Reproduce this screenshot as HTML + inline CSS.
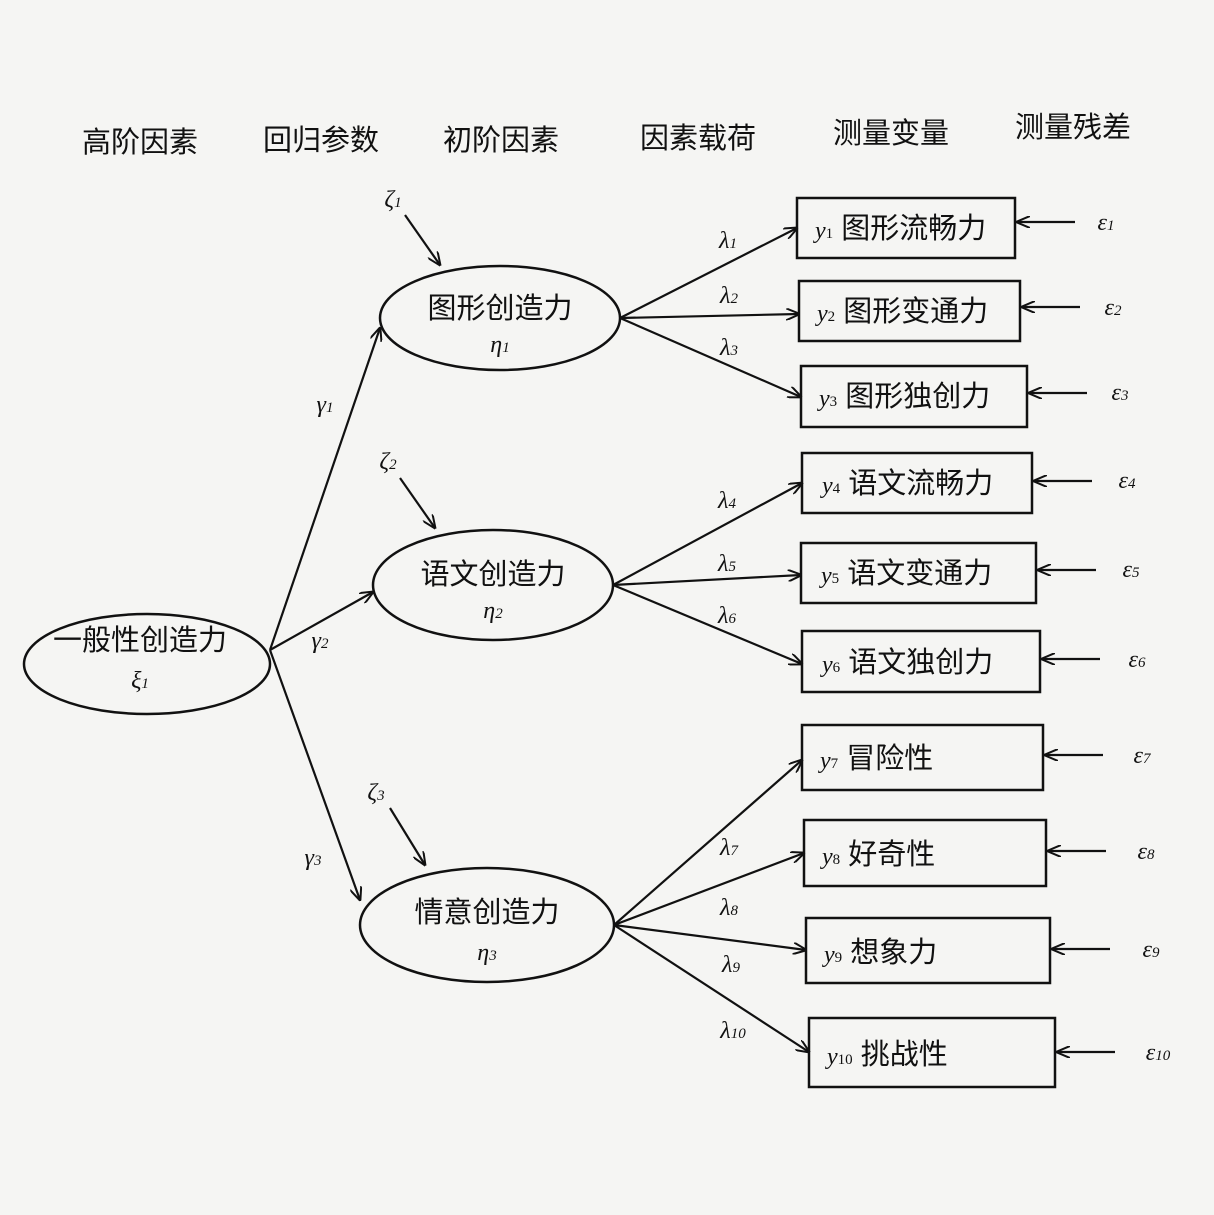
<!DOCTYPE html>
<html><head><meta charset="utf-8">
<style>
html,body{margin:0;padding:0;background:#f5f5f3;}
svg{display:block;}
text{fill:#111;}
.s{font-family:"Liberation Serif","Noto Serif CJK SC",serif;}
text.h{font-family:"Liberation Sans","Noto Sans CJK SC",sans-serif;font-size:29px;}
text.c{font-family:"Liberation Sans","Noto Sans CJK SC",sans-serif;font-size:29px;}
.g{font-family:"Liberation Serif",serif;font-style:italic;font-size:24px;}
</style></head><body>
<svg width="1214" height="1215" viewBox="0 0 1214 1215" xmlns="http://www.w3.org/2000/svg">
<defs><marker id="a" markerWidth="14" markerHeight="12" refX="13" refY="6" orient="auto" markerUnits="userSpaceOnUse"><path d="M0,0 L14,6 L0,12" fill="none" stroke="#111" stroke-width="2"/></marker></defs>
<text class="h" x="82" y="152">高阶因素</text><text class="h" x="263" y="150">回归参数</text><text class="h" x="443" y="150">初阶因素</text>
<text class="h" x="640" y="148">因素载荷</text><text class="h" x="833" y="143">测量变量</text><text class="h" x="1015" y="137">测量残差</text>
<g fill="none" stroke="#111" stroke-width="2.5">
<ellipse cx="147" cy="664" rx="123" ry="50"/>
<ellipse cx="500" cy="318" rx="120" ry="52"/>
<ellipse cx="493" cy="585" rx="120" ry="55"/>
<ellipse cx="487" cy="925" rx="127" ry="57"/>
<rect x="797" y="198" width="218" height="60"/>
<rect x="799" y="281" width="221" height="60"/>
<rect x="801" y="366" width="226" height="61"/>
<rect x="802" y="453" width="230" height="60"/>
<rect x="801" y="543" width="235" height="60"/>
<rect x="802" y="631" width="238" height="61"/>
<rect x="802" y="725" width="241" height="65"/>
<rect x="804" y="820" width="242" height="66"/>
<rect x="806" y="918" width="244" height="65"/>
<rect x="809" y="1018" width="246" height="69"/>
</g>
<g stroke="#111" stroke-width="2.2" fill="none" marker-end="url(#a)">
<line x1="270" y1="650" x2="380" y2="328"/>
<line x1="270" y1="650" x2="373" y2="592"/>
<line x1="270" y1="650" x2="360" y2="900"/>
<line x1="405" y1="215" x2="440" y2="265"/>
<line x1="400" y1="478" x2="435" y2="528"/>
<line x1="390" y1="808" x2="425" y2="865"/>
<line x1="620" y1="318" x2="797" y2="228"/>
<line x1="620" y1="318" x2="799" y2="314"/>
<line x1="620" y1="318" x2="801" y2="397"/>
<line x1="613" y1="585" x2="802" y2="483"/>
<line x1="613" y1="585" x2="801" y2="575"/>
<line x1="613" y1="585" x2="802" y2="664"/>
<line x1="614" y1="925" x2="802" y2="760"/>
<line x1="614" y1="925" x2="804" y2="853"/>
<line x1="614" y1="925" x2="806" y2="950"/>
<line x1="614" y1="925" x2="809" y2="1052"/>
<line x1="1075" y1="222" x2="1017" y2="222"/>
<line x1="1080" y1="307" x2="1022" y2="307"/>
<line x1="1087" y1="393" x2="1029" y2="393"/>
<line x1="1092" y1="481" x2="1034" y2="481"/>
<line x1="1096" y1="570" x2="1038" y2="570"/>
<line x1="1100" y1="659" x2="1042" y2="659"/>
<line x1="1103" y1="755" x2="1045" y2="755"/>
<line x1="1106" y1="851" x2="1048" y2="851"/>
<line x1="1110" y1="949" x2="1052" y2="949"/>
<line x1="1115" y1="1052" x2="1057" y2="1052"/>
</g>
<text class="c" text-anchor="middle" x="140" y="650">一般性创造力</text>
<text class="c" text-anchor="middle" x="500" y="318">图形创造力</text>
<text class="c" text-anchor="middle" x="493" y="584">语文创造力</text>
<text class="c" text-anchor="middle" x="487" y="922">情意创造力</text>
<g class="g" text-anchor="middle">
<text x="140" y="688">ξ<tspan font-size="15">1</tspan></text>
<text x="500" y="352">η<tspan font-size="15">1</tspan></text>
<text x="493" y="618">η<tspan font-size="15">2</tspan></text>
<text x="487" y="960">η<tspan font-size="15">3</tspan></text>
<text x="325" y="412">γ<tspan font-size="15">1</tspan></text>
<text x="320" y="648">γ<tspan font-size="15">2</tspan></text>
<text x="313" y="865">γ<tspan font-size="15">3</tspan></text>
<text x="393" y="207">ζ<tspan font-size="15">1</tspan></text>
<text x="388" y="469">ζ<tspan font-size="15">2</tspan></text>
<text x="376" y="800">ζ<tspan font-size="15">3</tspan></text>
<text x="728" y="248">λ<tspan font-size="15">1</tspan></text>
<text x="729" y="303">λ<tspan font-size="15">2</tspan></text>
<text x="729" y="355">λ<tspan font-size="15">3</tspan></text>
<text x="727" y="508">λ<tspan font-size="15">4</tspan></text>
<text x="727" y="571">λ<tspan font-size="15">5</tspan></text>
<text x="727" y="623">λ<tspan font-size="15">6</tspan></text>
<text x="729" y="855">λ<tspan font-size="15">7</tspan></text>
<text x="729" y="915">λ<tspan font-size="15">8</tspan></text>
<text x="731" y="972">λ<tspan font-size="15">9</tspan></text>
<text x="733" y="1038">λ<tspan font-size="15">10</tspan></text>
<text x="1106" y="230">ε<tspan font-size="15">1</tspan></text>
<text x="1113" y="315">ε<tspan font-size="15">2</tspan></text>
<text x="1120" y="400">ε<tspan font-size="15">3</tspan></text>
<text x="1127" y="488">ε<tspan font-size="15">4</tspan></text>
<text x="1131" y="577">ε<tspan font-size="15">5</tspan></text>
<text x="1137" y="667">ε<tspan font-size="15">6</tspan></text>
<text x="1142" y="763">ε<tspan font-size="15">7</tspan></text>
<text x="1146" y="859">ε<tspan font-size="15">8</tspan></text>
<text x="1151" y="957">ε<tspan font-size="15">9</tspan></text>
<text x="1158" y="1060">ε<tspan font-size="15">10</tspan></text>
</g>
<text class="c" x="815" y="238"><tspan class="g">y</tspan><tspan class="s" font-size="15">1</tspan> 图形流畅力</text>
<text class="c" x="817" y="321"><tspan class="g">y</tspan><tspan class="s" font-size="15">2</tspan> 图形变通力</text>
<text class="c" x="819" y="406"><tspan class="g">y</tspan><tspan class="s" font-size="15">3</tspan> 图形独创力</text>
<text class="c" x="822" y="493"><tspan class="g">y</tspan><tspan class="s" font-size="15">4</tspan> 语文流畅力</text>
<text class="c" x="821" y="583"><tspan class="g">y</tspan><tspan class="s" font-size="15">5</tspan> 语文变通力</text>
<text class="c" x="822" y="672"><tspan class="g">y</tspan><tspan class="s" font-size="15">6</tspan> 语文独创力</text>
<text class="c" x="820" y="768"><tspan class="g">y</tspan><tspan class="s" font-size="15">7</tspan> 冒险性</text>
<text class="c" x="822" y="864"><tspan class="g">y</tspan><tspan class="s" font-size="15">8</tspan> 好奇性</text>
<text class="c" x="824" y="962"><tspan class="g">y</tspan><tspan class="s" font-size="15">9</tspan> 想象力</text>
<text class="c" x="827" y="1064"><tspan class="g">y</tspan><tspan class="s" font-size="15">10</tspan> 挑战性</text>
</svg>
</body></html>
